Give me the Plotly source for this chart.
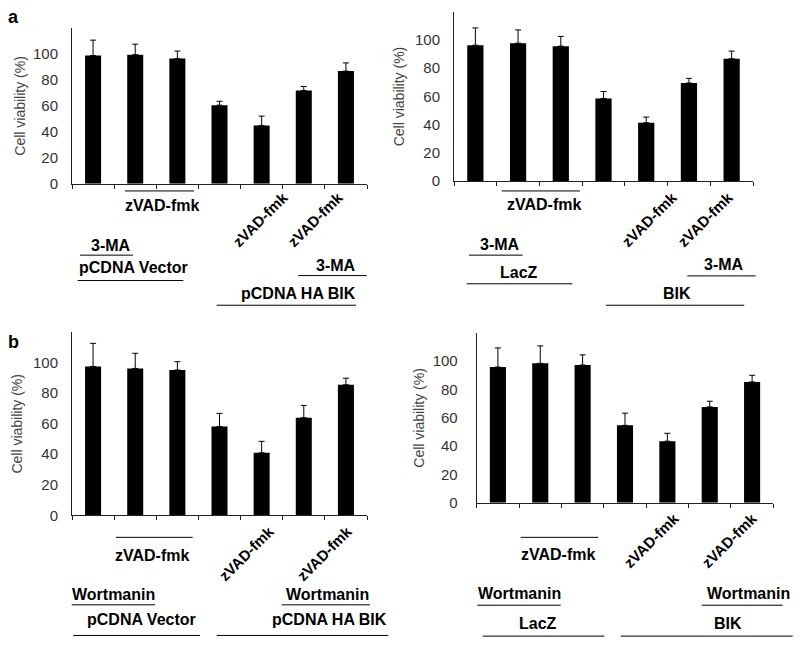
import plotly.graph_objects as go

W, H = 800, 655

# ---- data ----
conditions = ["1", "2", "3", "4", "5", "6", "7"]
a_left_vals = [98.5, 99.2, 96.2, 60.4, 44.7, 71.7, 86.6]
a_left_err = [11.9, 8.1, 5.8, 3.0, 7.3, 3.1, 6.3]
a_right_vals = [96.2, 97.6, 95.5, 58.5, 41.3, 69.4, 86.6]
a_right_err = [12.2, 9.4, 6.9, 4.9, 4.0, 3.3, 5.4]
b_left_vals = [97.4, 96.1, 95.1, 58.1, 40.9, 63.9, 85.4]
b_left_err = [15.1, 9.9, 5.4, 8.6, 7.5, 8.0, 4.3]
b_right_vals = [95.7, 98.3, 97.1, 54.6, 43.4, 67.6, 85.2]
b_right_err = [13.5, 12.3, 7.2, 8.6, 5.6, 4.0, 4.7]
y_ticks = [0, 20, 40, 60, 80, 100]

FONT = "Arial, Liberation Sans, Helvetica, sans-serif"


def px(x):
    return x / W


def py(y):
    return 1 - y / H


# panel pixel boxes: (x0, x1, ytop, ybottom), title x, tick label standoff
panels = [
    (a_left_vals, a_left_err, (72, 367, 28, 186), 20, 10),
    (a_right_vals, a_right_err, (454, 753, 11.7, 183.3), 399, 10),
    (b_left_vals, b_left_err, (72, 367, 336, 521.7), 17, 10),
    (b_right_vals, b_right_err, (476.7, 773.3, 336.7, 509), 419, 15),
]

fig = go.Figure()
annotations = []
shapes = []

for i, (vals, errs, box, title_x, standoff) in enumerate(panels):
    n = i + 1
    xa = "x" if n == 1 else f"x{n}"
    ya = "y" if n == 1 else f"y{n}"
    x0, x1, yt, yb = box
    xpos = list(range(len(conditions)))
    fig.add_trace(go.Bar(
        x=xpos, y=vals, xaxis=xa, yaxis=ya,
        marker=dict(color="black", line=dict(width=0)),
        width=0.38,
        error_y=dict(type="data", symmetric=False, array=errs,
                     arrayminus=[0] * len(errs), color="black",
                     thickness=1, width=3),
        hovertext=conditions, showlegend=False,
    ))
    xkey = "xaxis" if n == 1 else f"xaxis{n}"
    ykey = "yaxis" if n == 1 else f"yaxis{n}"
    fig.layout[xkey] = dict(
        domain=[px(x0), px(x1)], anchor=ya, range=[-0.5, 6.5],
        tickvals=[k - 0.5 for k in range(len(conditions) + 1)],
        showticklabels=False, ticks="outside", ticklen=4, tickwidth=1,
        tickcolor="#222", showline=True, linecolor="#222", linewidth=1,
        showgrid=False, zeroline=False, fixedrange=True,
    )
    fig.layout[ykey] = dict(
        domain=[py(yb), py(yt)], anchor=xa, range=[0, 120],
        tickvals=y_ticks, ticks="", showline=True, linecolor="#222",
        linewidth=1, showgrid=False, zeroline=False,
        tickfont=dict(family=FONT, size=15, color="#333"),
        ticklabelstandoff=standoff,
    )
    annotations.append(dict(
        text="Cell viability (%)", x=px(title_x), y=py((yt + yb) / 2),
        xref="paper", yref="paper", textangle=-90, showarrow=False,
        xanchor="center", yanchor="middle",
        font=dict(family=FONT, size=14, color="#444"),
    ))


def label(text, x, y, angle=0, size=16):
    annotations.append(dict(
        text=f"<b>{text}</b>", x=px(x), y=py(y), xref="paper", yref="paper",
        showarrow=False, xanchor="center", yanchor="middle", textangle=angle,
        font=dict(family=FONT, size=size, color="black"),
    ))


def hline(xa, xb, y):
    shapes.append(dict(type="line", xref="paper", yref="paper",
                       x0=px(xa), x1=px(xb), y0=py(y), y1=py(y),
                       line=dict(color="black", width=1)))


# panel letters
label("a", 13, 17, size=18)
label("b", 13, 346, size=18)

# a-left
hline(125, 194, 193.3)
label("zVAD-fmk", 162, 208)
label("zVAD-fmk", 260, 222, -45, 15)
label("zVAD-fmk", 315, 222, -45, 15)
label("3-MA", 111, 249)
hline(80, 133, 258.3)
label("pCDNA Vector", 133, 271)
hline(77.7, 183.3, 284)
label("3-MA", 335.5, 269)
hline(298.3, 366.7, 279)
label("pCDNA HA BIK", 298, 297)
hline(216.7, 356, 309)

# a-right
hline(501.7, 580, 193.3)
label("zVAD-fmk", 544, 207)
label("zVAD-fmk", 649, 222, -45, 15)
label("zVAD-fmk", 705, 222, -45, 15)
label("3-MA", 500, 248)
hline(469, 522.7, 258.3)
label("LacZ", 519, 276)
hline(466.7, 572.3, 287.3)
label("3-MA", 724, 268)
hline(687.3, 755.7, 279.3)
label("BIK", 677, 297)
hline(606, 744.3, 309)

# b-left
hline(116, 192.7, 544)
label("zVAD-fmk", 152, 562)
label("zVAD-fmk", 246, 560, -45, 15)
label("zVAD-fmk", 324, 560, -45, 15)
label("Wortmanin", 114, 602)
hline(71.7, 155, 612.3)
label("pCDNA Vector", 141, 627)
hline(73.3, 200, 643.3)
label("Wortmanin", 327.5, 602)
hline(281.7, 370, 612.3)
label("pCDNA HA BIK", 329.5, 627)
hline(216.7, 388.3, 643.3)

# b-right
hline(520.7, 598.3, 544)
label("zVAD-fmk", 558, 561)
label("zVAD-fmk", 651, 547, -45, 15)
label("zVAD-fmk", 729, 547, -45, 15)
label("Wortmanin", 519, 601)
hline(477.3, 560.7, 612.7)
label("LacZ", 538, 631)
hline(482.7, 604.3, 644)
label("Wortmanin", 748, 601)
hline(701.7, 782.7, 612.7)
label("BIK", 728, 631)
hline(620.7, 792.7, 644)

fig.update_layout(
    width=W, height=H, margin=dict(l=0, r=0, t=0, b=0),
    paper_bgcolor="white", plot_bgcolor="white",
    annotations=annotations, shapes=shapes, showlegend=False,
    font=dict(family=FONT),
)

fig.write_html("out.html",
               config={"displayModeBar": False},
               post_script="document.body.style.margin='0px';"
                           "document.body.style.overflow='hidden';")
